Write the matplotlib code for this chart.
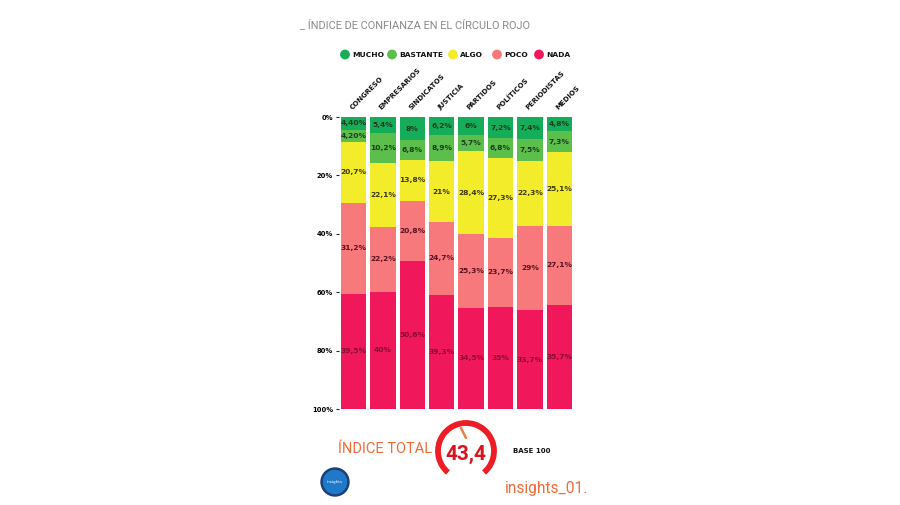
import matplotlib
matplotlib.use("Agg")
import matplotlib.pyplot as plt
import numpy as np
from matplotlib.patches import Arc, Circle

categories = ["CONGRESO", "EMPRESARIOS", "SINDICATOS", "JUSTICIA",
              "PARTIDOS", "POLÍTICOS", "PERIODISTAS", "MEDIOS"]
series_names = ["MUCHO", "BASTANTE", "ALGO", "POCO", "NADA"]
mucho = [4.4, 5.4, 8, 6.2, 6, 7.2, 7.4, 4.8]
bastante = [4.2, 10.2, 6.8, 8.9, 5.7, 6.8, 7.5, 7.3]
algo = [20.7, 22.1, 13.8, 21, 28.4, 27.3, 22.3, 25.1]
poco = [31.2, 22.2, 20.8, 24.7, 25.3, 23.7, 29, 27.1]
nada = [39.5, 40, 50.6, 39.3, 34.5, 35, 33.7, 35.7]
labels = [
    ["4,40%", "5,4%", "8%", "6,2%", "6%", "7,2%", "7,4%", "4,8%"],
    ["4,20%", "10,2%", "6,8%", "8,9%", "5,7%", "6,8%", "7,5%", "7,3%"],
    ["20,7%", "22,1%", "13,8%", "21%", "28,4%", "27,3%", "22,3%", "25,1%"],
    ["31,2%", "22,2%", "20,8%", "24,7%", "25,3%", "23,7%", "29%", "27,1%"],
    ["39,5%", "40%", "50,6%", "39,3%", "34,5%", "35%", "33,7%", "35,7%"],
]
yticks = [0, 20, 40, 60, 80, 100]
ytick_labels = ["0%", "20%", "40%", "60%", "80%", "100%"]
indice_total = "43,4"

colors = ["#15ad5a", "#5cbf4c", "#f3ec2a", "#f7797b", "#f0185a"]
label_colors = ["#1e3a1e", "#1e3a1e", "#3a3a10", "#5a1020", "#8a0a35"]

W, H = 900, 505
fig = plt.figure(figsize=(W / 100, H / 100), dpi=100)
fig.patch.set_facecolor("white")

# main axes: x 338.8..574, y 117..409 (pixels from top)
ax = fig.add_axes([338.8 / W, 1 - 409 / H, (574 - 338.8) / W, (409 - 117) / H])
x = np.arange(len(categories))
bottom = np.zeros(len(categories))
for vals, col, lab, lc in zip([mucho, bastante, algo, poco, nada], colors, labels, label_colors):
    vals = np.array(vals, dtype=float)
    bars = ax.bar(x, vals, bottom=bottom, width=0.86, color=col, edgecolor="none")
    for i, b in enumerate(bars):
        ax.text(x[i], bottom[i] + vals[i] / 2, lab[i], ha="center", va="center",
                fontsize=5.4, fontweight="bold", color=lc)
    bottom += vals

ax.set_xlim(-0.5, 7.5)
ax.set_ylim(100, 0)
ax.set_yticks(yticks)
ax.set_yticklabels(ytick_labels, fontsize=4.9, fontweight="bold")
ax.tick_params(axis="y", length=2.5, width=0.8, pad=1.5, color="#222222")
ax.set_xticks([])
for s in ax.spines.values():
    s.set_visible(False)

for i, c in enumerate(categories):
    ax.text(x[i] - 0.02, -2.0, c, rotation=45, ha="left", va="bottom",
            fontsize=5.0, fontweight="bold", color="#111111", rotation_mode="anchor")

# overlay for decorations
ov = fig.add_axes([0, 0, 1, 1], zorder=-1)
ov.set_xlim(0, W)
ov.set_ylim(H, 0)
ov.axis("off")

ov.text(300, 25, "_ ÍNDICE DE CONFIANZA EN EL CÍRCULO ROJO", fontsize=7.9,
        color="#8a8a8a", ha="left", va="center", family="Roboto")

# legend
leg_x = [345, 392, 453, 497, 539]
for lx, name, col in zip(leg_x, series_names, colors):
    ov.add_patch(Circle((lx, 54.5), 4.2, color=col))
    ov.text(lx + 7, 55, name, fontsize=5.4, fontweight="bold", ha="left",
            va="center", color="#111111")

# bottom section
ov.text(338, 449, "ÍNDICE TOTAL", fontsize=10.5, color="#f26b3a", ha="left",
        va="center", family="Roboto")
# y axis inverted: visual arc -50..230 deg -> data 130..50
ov.add_patch(Arc((466, 451), 56, 56, angle=0, theta1=130, theta2=50,
                 color="#ee1c25", lw=4.2))
ov.plot([461, 466], [428, 438], color="#e8804a", lw=1.8, solid_capstyle="round")
ov.text(466, 454, indice_total, fontsize=15, fontweight="bold", color="#d8151f",
        ha="center", va="center", family="Roboto")
ov.text(513, 451, "BASE 100", fontsize=5.0, fontweight="bold", color="#111111",
        ha="left", va="center")
ov.add_patch(Circle((335, 482), 14, color="#1b3f7a"))
ov.add_patch(Circle((335, 482), 11.5, color="#1f78c8"))
ov.text(335, 482, "insights", fontsize=3, color="white", ha="center", va="center")
ov.text(505, 488, "insights_01.", fontsize=11.2, color="#f26b3a", ha="left",
        va="center", family="Roboto")

fig.savefig("out.png", dpi=100, facecolor="white")
